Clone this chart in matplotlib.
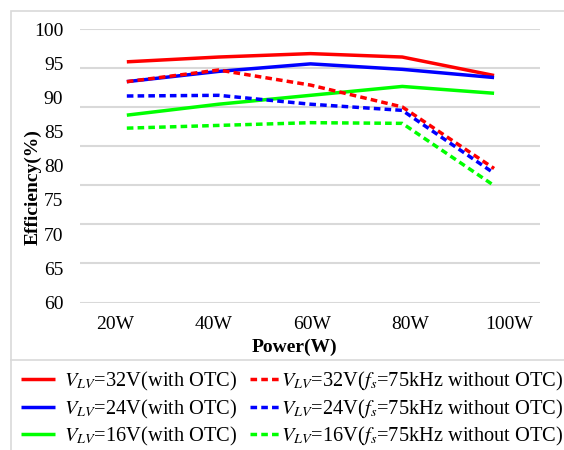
import numpy as np
import matplotlib
matplotlib.use("Agg")
import matplotlib.pyplot as plt
from matplotlib.lines import Line2D
from matplotlib.patches import Rectangle

plt.rcParams['font.family'] = ['Liberation Serif', 'DejaVu Serif']
plt.rcParams['mathtext.fontset'] = 'stix'

# data (efficiency %)
powers = ['20W', '40W', '60W', '80W', '100W']
v32_otc = [95.2, 95.9, 96.4, 95.9, 93.2]
v24_otc = [92.3, 93.8, 94.9, 94.1, 92.9]
v16_otc = [87.4, 89.0, 90.3, 91.6, 90.6]
v32_75k = [92.3, 94.0, 91.8, 88.6, 79.6]
v24_75k = [90.2, 90.3, 89.0, 88.1, 78.9]
v16_75k = [85.5, 85.9, 86.3, 86.2, 77.1]

yticks = [60, 65, 70, 75, 80, 85, 90, 95, 100]

solid_labels = [r'$V_{LV}$=32V(with OTC)', r'$V_{LV}$=24V(with OTC)', r'$V_{LV}$=16V(with OTC)']
dash_labels = [r'$V_{LV}$=32V($f_s$=75kHz without OTC)',
               r'$V_{LV}$=24V($f_s$=75kHz without OTC)',
               r'$V_{LV}$=16V($f_s$=75kHz without OTC)']
colors = ['#ff0000', '#0000ff', '#00ff00']

W, H = 564, 450
fig = plt.figure(figsize=(W / 100, H / 100), dpi=100)

# outer frame and divider, like the exported chart box
fig.patches.append(Rectangle((11 / W, -0.1), 1.2, 1 - 11 / H + 0.1, transform=fig.transFigure,
                             fill=False, edgecolor='#d9d9d9', lw=1.2))
fig.lines.append(Line2D([11 / W, 1.1], [1 - 360 / H, 1 - 360 / H], transform=fig.transFigure,
                        color='#d9d9d9', lw=1.2))

ax = fig.add_axes([80 / W, 1 - 302.5 / H, 460 / W, 273.5 / H])
x = np.arange(len(powers))

for g in np.linspace(60, 100, 8):
    ax.axhline(g, color='#d9d9d9', lw=1.5, zorder=0)

solid = [v32_otc, v24_otc, v16_otc]
dashed = [v32_75k, v24_75k, v16_75k]
solid_h = []
dash_h = []
for vals, c in zip(solid, colors):
    h, = ax.plot(x, vals, color=c, lw=2.5, solid_capstyle='butt')
    solid_h.append(h)
for vals, c in zip(dashed, colors):
    h, = ax.plot(x, vals, color=c, lw=2.5, dashes=(1.9, 1.2))
    dash_h.append(h)

ax.set_xlim(-0.51, 4.5)
ax.set_ylim(60, 100)
ax.set_yticks(yticks)
ax.set_xticks(np.linspace(-0.13, 4.16, 5))
ax.set_xticklabels(powers)
for s in ax.spines.values():
    s.set_visible(False)
ax.tick_params(axis='x', length=0, pad=10, labelsize=14)
ax.tick_params(axis='y', length=0, pad=12, labelsize=14)

fig.text(33 / W, 1 - 187 / H, 'Efficiency(%)', rotation=90, ha='center', va='center',
         fontsize=14, fontweight='bold')
fig.text(294 / W, 1 - 347 / H, 'Power(W)', ha='center', va='center',
         fontsize=14, fontweight='bold')

fig.legend(solid_h, solid_labels, loc='upper left', bbox_to_anchor=(21 / W, 1 - 370 / H),
           frameon=False, fontsize=14.7, handlelength=1.65, handletextpad=0.45,
           labelspacing=0.22, borderpad=0, borderaxespad=0)
fig.legend(dash_h, dash_labels, loc='upper left', bbox_to_anchor=(250 / W, 1 - 370 / H),
           frameon=False, fontsize=14.7, handlelength=1.4, handletextpad=0.1,
           labelspacing=0.22, borderpad=0, borderaxespad=0)

fig.savefig('out.png', dpi=100)
